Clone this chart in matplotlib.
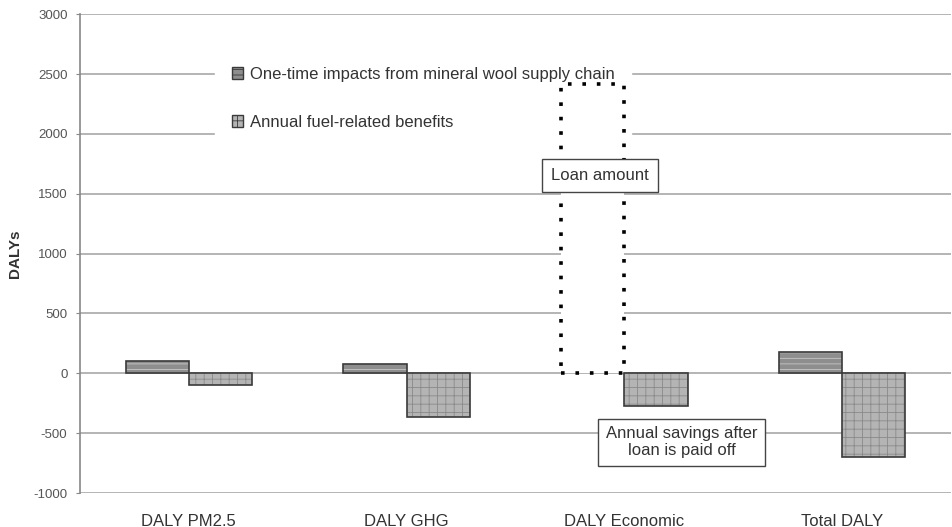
import numpy as np
import matplotlib.pyplot as plt
from matplotlib.patches import Patch

categories = ['DALY PM2.5', 'DALY GHG', 'DALY Economic', 'Total DALY']
one_time = [100, 75, 2420, 175]
annual = [-95, -365, -275, -700]
series_names = ['One-time impacts from mineral wool supply chain',
                'Annual fuel-related benefits']

plt.rcParams['font.family'] = ['Liberation Sans', 'DejaVu Sans']
plt.rcParams['hatch.linewidth'] = 0.6
plt.rcParams['axes.unicode_minus'] = False

fig = plt.figure(figsize=(9.52, 5.27), dpi=100)
ax = fig.add_axes([0.084, 0.0645, 0.915, 0.9085])

x = np.arange(len(categories))
w = 0.29

for i in range(len(categories)):
    if i == 2:
        # loan amount: dotted outline only
        ax.bar(x[i] - w / 2, one_time[i], w, facecolor='white', edgecolor='black',
               linestyle=(0, (1, 3)), linewidth=2.6, zorder=3)
    else:
        ax.bar(x[i] - w / 2, one_time[i], w, facecolor='#8e8e8e', edgecolor='#c8c8c8',
               hatch='---', linewidth=0, zorder=3)
        ax.bar(x[i] - w / 2, one_time[i], w, fill=False, edgecolor='#3a3a3a',
               linewidth=1.2, zorder=4)
    ax.bar(x[i] + w / 2, annual[i], w, facecolor='#b4b4b4', edgecolor='#8a8a8a',
           hatch='++', linewidth=0, zorder=3)
    ax.bar(x[i] + w / 2, annual[i], w, fill=False, edgecolor='#3a3a3a',
           linewidth=1.2, zorder=4)

ax.set_xlim(-0.5, 3.5)
ax.set_ylim(-1000, 3000)
ax.set_yticks(np.arange(-1000, 3001, 500))
ax.yaxis.grid(True, color='#a8a8a8', linewidth=1.2, zorder=0)
ax.set_axisbelow(True)
for s in ['top', 'right', 'bottom']:
    ax.spines[s].set_visible(False)
ax.spines['left'].set_color('#888888')
ax.spines['left'].set_linewidth(1.2)
ax.tick_params(axis='y', labelsize=9.5, colors='#888888', length=3, labelcolor='#555555', pad=6)
ax.set_xticks(x)
ax.set_xticklabels(categories, fontsize=12, color='#333333')
ax.tick_params(axis='x', length=0, pad=15)
ax.set_ylabel('DALYs', fontsize=11, fontweight='bold', color='#333333')
ax.yaxis.set_label_coords(-0.066, 0.5)

handles = [Patch(facecolor='#8e8e8e', edgecolor='#3a3a3a', hatch='---'),
           Patch(facecolor='#b4b4b4', edgecolor='#3a3a3a', hatch='++')]
leg = ax.legend(handles, series_names, loc='upper left', bbox_to_anchor=(0.155, 0.925),
                frameon=True, fancybox=False, edgecolor='white', framealpha=1,
                fontsize=12, handlelength=0.7, handleheight=0.7, handletextpad=0.4,
                labelspacing=2.0, borderpad=1.0, borderaxespad=0)
leg.get_frame().set_boxstyle('square', pad=0)
leg.set_zorder(2)
for t in leg.get_texts():
    t.set_color('#333333')

ax.text(1.665, 1650, 'Loan amount', fontsize=12, color='#333333',
        ha='left', va='center', zorder=6,
        bbox=dict(boxstyle='square,pad=0.55', facecolor='white', edgecolor='#444444', linewidth=1))
ax.text(2.263, -576, 'Annual savings after\nloan is paid off', fontsize=12, color='#333333',
        ha='center', va='center', zorder=6, linespacing=1.2,
        bbox=dict(boxstyle='square,pad=0.45', facecolor='white', edgecolor='#444444', linewidth=1))

fig.savefig('out.png', dpi=100)
